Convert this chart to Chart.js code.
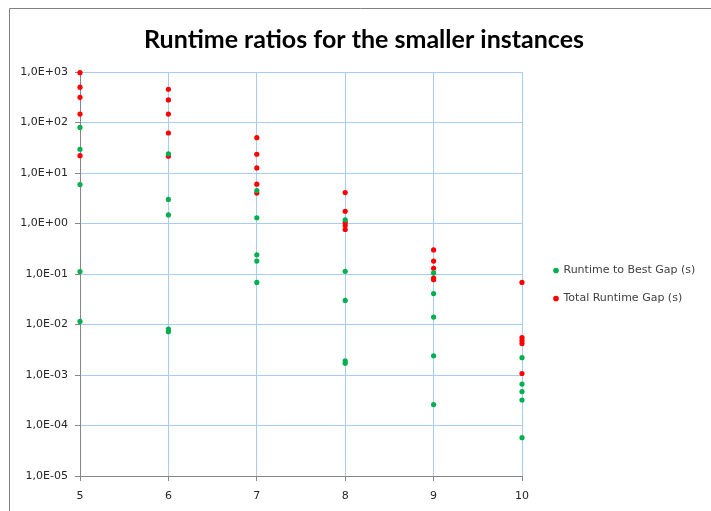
<!DOCTYPE html>
<html>
<head>
<meta charset="utf-8">
<script src="https://cdn.jsdelivr.net/npm/chart.js@4/dist/chart.umd.min.js"></script>
<style>
  html, body { margin: 0; padding: 0; background: #fff; }
  #wrap { width: 711px; height: 511px; }
</style>
</head>
<body>
<div id="wrap"><canvas id="myChart"></canvas></div>
<script>
// instance sizes (x) and ratios (y)
let bestX = [5, 5, 5, 5, 5, 6, 6, 6, 6, 6, 7, 7, 7, 7, 7, 8, 8, 8, 8, 8, 9, 9, 9, 9, 9, 10, 10, 10, 10, 10];
let bestY = [80, 29.5, 5.9, 0.112, 0.0115,
             24, 3.0, 1.48, 0.0081, 0.0072,
             4.5, 1.3, 0.24, 0.18, 0.068,
             1.18, 0.113, 0.030, 0.0019, 0.0017,
             0.105, 0.041, 0.014, 0.0024, 0.00026,
             0.0022, 0.00066, 0.00047, 0.00032, 0.0000575];
let totalX = [5, 5, 5, 5, 5, 6, 6, 6, 6, 6, 7, 7, 7, 7, 7, 8, 8, 8, 8, 8, 9, 9, 9, 9, 9, 10, 10, 10, 10, 10];
let totalY = [970, 500, 315, 147, 22,
              455, 280, 147, 62, 21.5,
              50, 23.5, 12.6, 6.0, 4.0,
              4.1, 1.75, 1.05, 0.91, 0.76,
              0.30, 0.18, 0.13, 0.083, 0.077,
              0.068, 0.0055, 0.0048, 0.0042, 0.00107];
let seriesNames = ['Runtime to Best Gap (s)', 'Total Runtime Gap (s)'];
let yTicks = [1e-5, 1e-4, 1e-3, 1e-2, 1e-1, 1e0, 1e1, 1e2, 1e3];
let xTicks = [5, 6, 7, 8, 9, 10];
let title = 'Runtime ratios for the smaller instances';

function toPoints(xs, ys) {
    let pts = [];
    for (let i = 0; i < xs.length; i++) {
        pts.push({x: xs[i], y: ys[i]});
    }
    return pts;
}

// excel style "1,0E+03"
function sci(v) {
    let e = Math.round(Math.log10(v));
    let sign = e < 0 ? '-' : '+';
    let n = Math.abs(e);
    return '1,0E' + sign + (n < 10 ? '0' : '') + n;
}

// the cropped outer frame of the chart (left and top edges only)
const frame = {
    id: 'frame',
    afterDraw(chart) {
        let c = chart.ctx;
        c.save();
        c.strokeStyle = '#808080';
        c.lineWidth = 1;
        c.beginPath();
        c.moveTo(9.5, 511);
        c.lineTo(9.5, 8.5);
        c.lineTo(711, 8.5);
        c.stroke();
        c.restore();
    }
};

// nudge title and legend to where excel put them
const nudge = {
    id: 'nudge',
    afterLayout(chart) {
        chart.legend.left += 15;
        chart.legend.right += 15;
        chart.titleBlock.left += 10;
        chart.titleBlock.right += 10;
    }
};

let ctx = document.getElementById('myChart');
let gridBlue = '#a9cdf2';
let axisGray = '#868686';

let myChart = new Chart(ctx, {
    type: 'scatter',
    data: {
        datasets: [{
            label: seriesNames[0],
            data: toPoints(bestX, bestY),
            backgroundColor: '#00b050',
            borderWidth: 0,
            pointRadius: 2.6,
            pointHoverRadius: 2.6,
            clip: false
        }, {
            label: seriesNames[1],
            data: toPoints(totalX, totalY),
            backgroundColor: '#ff0000',
            borderWidth: 0,
            pointRadius: 2.6,
            pointHoverRadius: 2.6,
            clip: false
        }]
    },
    options: {
        responsive: true,
        maintainAspectRatio: false,
        animation: false,
        layout: { padding: { left: 18, right: 21, top: 0, bottom: 0 } },
        plugins: {
            title: {
                display: true,
                text: title,
                color: '#000',
                font: { family: 'Lato', size: 25, weight: 'bold' },
                padding: { top: 25, bottom: 17 }
            },
            legend: {
                position: 'right',
                align: 'center',
                title: {
                    display: true,
                    text: '',
                    font: { size: 10 },
                    padding: { top: 0, bottom: 46 }
                },
                labels: {
                    usePointStyle: true,
                    pointStyle: 'circle',
                    boxWidth: 4,
                    boxHeight: 4,
                    padding: 17,
                    color: '#404040',
                    font: { family: 'DejaVu Sans', size: 11 }
                }
            },
            tooltip: { enabled: false }
        },
        scales: {
            x: {
                type: 'linear',
                min: 5,
                max: 10,
                afterBuildTicks: function (scale) {
                    scale.ticks = xTicks.map(v => ({value: v}));
                },
                afterFit: function (scale) { scale.height = 35; },
                grid: { color: gridBlue, tickColor: axisGray, tickLength: 5 },
                border: { color: axisGray },
                ticks: {
                    padding: 9,
                    color: '#262626',
                    font: { family: 'DejaVu Sans', size: 11 }
                }
            },
            y: {
                type: 'logarithmic',
                min: 1e-5,
                max: 1e3,
                afterBuildTicks: function (scale) {
                    scale.ticks = yTicks.map(v => ({value: v}));
                },
                afterFit: function (scale) { scale.width = 62; },
                grid: { color: gridBlue, tickColor: axisGray, tickLength: 5 },
                border: { color: axisGray },
                ticks: {
                    padding: 7,
                    color: '#262626',
                    font: { family: 'DejaVu Sans', size: 11 },
                    callback: function (v) { return sci(v); }
                }
            }
        }
    },
    plugins: [frame, nudge]
});
</script>
</body>
</html>
